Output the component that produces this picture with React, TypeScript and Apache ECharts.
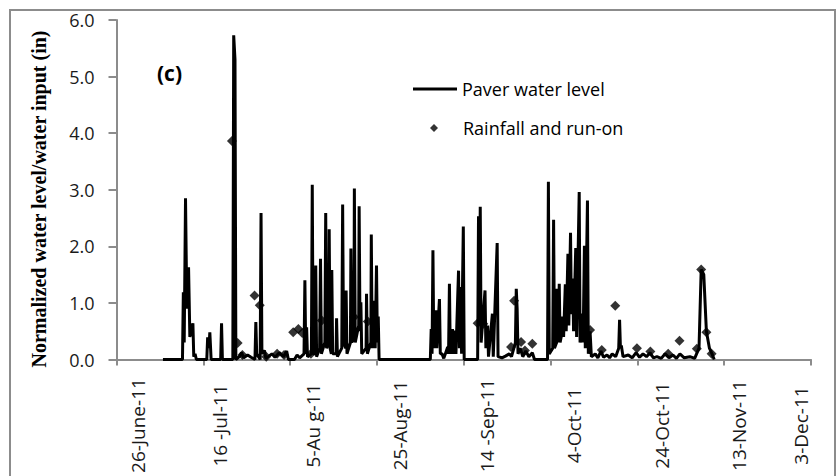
import React, { useEffect, useRef } from "react";
import * as echarts from "echarts";

// x values: days since 26-June-2011
const tickLabels = [
  "26-June-11",
  "16 -Jul-11",
  "5-Au g-11",
  "25-Aug-11",
  "14 -Sep-11",
  "4-Oct-11",
  "24-Oct-11",
  "13-Nov-11",
  "3-Dec-11",
];

const seriesNames = ["Paver water level", "Rainfall and run-on"];
const yTitle = "Normalized water level/water input (in)";
const panelLabel = "(c)";

const levelDay = [
  10.7, 15.2, 15.4, 15.6, 15.9, 16.2, 16.6, 16.9, 17.6, 17.8, 18.1, 18.4, 20.8, 21.0, 21.3, 21.5, 21.8, 24.0, 24.2, 24.4,
  26.8, 27.0, 27.3, 27.5, 28.3, 28.8, 29.3, 30.2, 31.0, 31.9, 32.1, 32.3, 33.1, 33.3, 33.5, 34.1, 34.4, 35.8, 36.5, 37.5,
  38.5, 39.2, 39.6, 41.0, 41.6, 42.2, 43.2, 43.4, 43.6, 43.8, 44.0, 44.9, 45.1, 45.3, 45.8, 45.9, 46.1, 46.8, 47.0, 47.2,
  48.0, 48.2, 48.4, 48.9, 49.0, 49.2, 49.5, 49.6, 49.8, 50.6, 50.7, 50.9, 51.9, 52.1, 52.3, 52.8, 52.9, 53.1, 53.9, 54.0,
  54.2, 54.7, 54.8, 55.0, 55.8, 55.9, 56.1, 56.3, 56.5, 57.5, 57.6, 57.8, 58.6, 58.7, 58.9, 59.4, 59.6, 59.9, 60.1, 60.3,
  60.5, 72.3, 72.5, 72.7, 72.9, 73.1, 73.6, 73.8, 74.4, 74.6, 75.0, 75.4, 76.3, 76.5, 76.7, 76.9, 77.4, 77.6, 78.0, 78.2,
  78.8, 79.0, 79.3, 79.5, 79.9, 80.1, 83.2, 83.4, 83.6, 83.8, 84.0, 84.9, 85.1, 85.5, 85.7, 86.6, 86.8, 87.7, 87.9, 88.8,
  89.6, 90.5, 91.0, 91.9, 92.1, 92.3, 92.5, 93.0, 93.6, 94.3, 95.0, 95.8, 96.3, 99.3, 99.5, 99.7, 100.5, 100.7, 100.9, 101.4,
  101.5, 101.8, 102.0, 102.2, 102.7, 102.8, 103.0, 103.4, 103.6, 104.0, 104.2, 104.6, 104.8, 105.1, 105.3, 105.8, 106.0, 106.6, 106.8, 107.3,
  107.5, 107.8, 108.0, 108.5, 108.7, 109.1, 109.4, 110.3, 110.9, 111.6, 112.2, 113.0, 113.6, 114.2, 115.0, 115.7, 115.9, 116.1, 116.3, 116.7,
  117.9, 118.8, 119.7, 120.5, 121.3, 122.1, 122.9, 123.7, 124.5, 125.5, 126.4, 127.3, 128.2, 129.0, 129.8, 130.8, 132.1, 133.2, 134.2, 134.7,
  135.0, 135.3, 135.9, 136.6, 137.2, 137.7,
];

const levelValue = [
  0, 0, 1.19, 0.3, 2.85, 0.9, 1.63, 0.4, 0.64, 0.05, 0.1, 0, 0, 0.39, 0.2, 0.48, 0, 0, 0.64, 0,
  0, 5.73, 5.3, 0, 0.05, 0.12, 0.03, 0.08, 0.04, 0, 0.66, 0.1, 0, 2.59, 0.1, 0.16, 0.02, 0.1, 0.04, 0.12,
  0.05, 0.15, 0, 0, 0.08, 0.03, 0.1, 1.4, 0.1, 0.57, 0.05, 0.1, 3.09, 0.1, 0.1, 1.66, 0.05, 0.2, 1.78, 0.1,
  0.3, 2.59, 0.2, 0.3, 2.3, 0.2, 0.1, 1.58, 0.1, 0.1, 0.73, 0.05, 0.2, 2.74, 0.3, 0.2, 1.22, 0.1, 0.3, 1.96,
  0.3, 0.4, 3.02, 0.3, 0.6, 2.71, 0.5, 1.01, 0.1, 0.2, 1.16, 0.1, 0.3, 2.21, 0.2, 1.04, 0.2, 1.66, 0.3, 0.76,
  0, 0, 0.54, 0.1, 1.93, 0.2, 0.87, 0.2, 1.07, 0.1, 0.1, 0.02, 0.22, 0.1, 1.34, 0.1, 0.54, 0.1, 0.51, 0.1,
  1.57, 0.2, 1.28, 0.1, 2.35, 0, 0, 2.53, 0.6, 2.7, 0.3, 1.22, 0.2, 0.6, 0.05, 0.81, 0.05, 2.06, 0.05, 0.03,
  0.06, 0.1, 0.05, 0.3, 1.25, 0.9, 0.1, 0.2, 0.05, 0.15, 0.05, 0.12, 0, 0, 3.14, 0.1, 0.2, 2.47, 0.2, 0.3,
  1.25, 0.3, 1.34, 0.3, 0.5, 0.76, 0.4, 1.33, 0.5, 1.87, 0.6, 2.24, 0.8, 1.43, 0.5, 1.97, 0.4, 2.96, 0.3, 0.81,
  0.3, 2.01, 0.2, 2.81, 0.1, 0.5, 0.05, 0.1, 0.03, 0.15, 0.04, 0.08, 0.03, 0.1, 0.05, 0.2, 0.7, 0.2, 0.25, 0.05,
  0.08, 0.03, 0.12, 0.04, 0.1, 0.05, 0.12, 0.03, 0.05, 0.02, 0.1, 0.03, 0.08, 0.02, 0.1, 0.03, 0.05, 0.02, 0.2, 1.59,
  1.55, 1.5, 0.5, 0.2, 0.1, 0,
];

const rainDay = [
  26.6, 27.9, 29.0, 31.8, 33.0, 34.5, 37.0, 38.6, 40.7, 41.9, 42.8, 44.8, 47.3, 54.7, 57.9, 83.2, 84.5, 90.9, 91.6, 93.2,
  94.1, 95.8, 109.1, 111.8, 114.9, 119.9, 123.0, 127.1, 129.7, 133.7, 134.7, 135.9, 137.1,
];
const rainValue = [
  3.86, 0.29, 0.08, 1.13, 0.96, 0.05, 0.1, 0.08, 0.48, 0.54, 0.47, 0.1, 0.69, 0.75, 0.67, 0.64, 0.63, 0.22, 1.04, 0.31,
  0.16, 0.28, 0.52, 0.17, 0.95, 0.2, 0.14, 0.1, 0.33, 0.19, 1.59, 0.48, 0.1,
];

const AXIS_GRAY = "#8c8c8c";
const FONT = "'Open Sans', 'Noto Sans', sans-serif";
// horizontal shift (px) of each rotated tick label relative to its tick, as in the reference
const labelShift = [21, 17, 23, 23, 23, 23, 25, 15, -10];

export default function App() {
  const ref = useRef<HTMLDivElement>(null);
  useEffect(() => {
    if (!ref.current) return;
    const chart = echarts.init(ref.current, undefined, { renderer: "svg" });
    const levelData = levelDay.map((d, i) => [d, levelValue[i]]);
    const rainData = rainDay.map((d, i) => [d, rainValue[i]]);
    const rich: Record<string, any> = {
      t: { fontFamily: FONT, fontSize: 19, color: "#1a1a1a", lineHeight: 22 },
    };
    labelShift.forEach((s, i) => {
      rich["s" + i] = { fontSize: 1, lineHeight: Math.max(1, Math.abs(s) * 2) };
    });
    chart.setOption({
      animation: false,
      backgroundColor: "#ffffff",
      grid: { left: 116.5, right: 26, top: 20, bottom: 116.5, outerBoundsMode: "none" },
      legend: [
        {
          data: [{ name: seriesNames[0], icon: "rect" }],
          left: 408,
          top: 75,
          itemWidth: 44,
          itemHeight: 3,
          selectedMode: false,
          textStyle: { fontFamily: FONT, fontSize: 18, color: "#000" },
        },
        {
          data: [{ name: seriesNames[1], icon: "diamond" }],
          left: 425,
          top: 114,
          itemWidth: 8,
          itemHeight: 8,
          selectedMode: false,
          textStyle: { fontFamily: FONT, fontSize: 18, color: "#000", padding: [0, 0, 0, 20] },
        },
      ],
      xAxis: {
        type: "value",
        min: 0,
        max: 160,
        interval: 20,
        splitLine: { show: false },
        axisLine: { show: true, lineStyle: { color: AXIS_GRAY, width: 2 } },
        axisTick: { show: true, length: 6, lineStyle: { color: AXIS_GRAY, width: 2 } },
        axisLabel: {
          rotate: 90,
          fontFamily: FONT,
          fontSize: 19,
          color: "#1a1a1a",
          align: "center",
          verticalAlign: "middle",
          margin: 66,
          rich,
          formatter: (v: number) => {
            const i = Math.round(v / 20);
            const label = tickLabels[i] ?? "";
            const s = labelShift[i] ?? 0;
            return s >= 0 ? `{s${i}| }\n{t|${label}}` : `{t|${label}}\n{s${i}| }`;
          },
        },
      },
      yAxis: {
        type: "value",
        min: 0,
        max: 6,
        interval: 1,
        splitLine: { show: false },
        axisLine: { show: true, lineStyle: { color: AXIS_GRAY, width: 2 } },
        axisTick: { show: true, length: 8, lineStyle: { color: AXIS_GRAY, width: 2 } },
        axisLabel: {
          fontFamily: FONT,
          fontSize: 18,
          color: "#1a1a1a",
          margin: 22,
          formatter: (v: number) => v.toFixed(1),
        },
      },
      graphic: [
        {
          type: "rect",
          silent: true,
          shape: { x: 10, y: 10, width: 825, height: 480 },
          style: { fill: "none", stroke: AXIS_GRAY, lineWidth: 2 },
        },
        {
          type: "text",
          left: 157,
          top: 62,
          style: { text: panelLabel, font: `bold 21px ${FONT}`, fill: "#000" },
        },
        {
          type: "text",
          x: 39,
          y: 199,
          rotation: Math.PI / 2,
          style: {
            text: yTitle,
            font: "bold 20px 'Liberation Serif', 'Times New Roman', serif",
            fill: "#000",
            align: "center",
            verticalAlign: "middle",
          },
        },
      ],
      series: [
        {
          name: seriesNames[0],
          type: "line",
          data: levelData,
          symbol: "none",
          showSymbol: false,
          lineStyle: { color: "#000", width: 3 },
          itemStyle: { color: "#000" },
          z: 2,
        },
        {
          name: seriesNames[1],
          type: "scatter",
          data: rainData,
          symbol: "diamond",
          symbolSize: 10,
          itemStyle: { color: "#000" },
          z: 3,
        },
      ],
    });
    return () => chart.dispose();
  }, []);
  return (
    <div
      ref={ref}
      style={{ position: "fixed", left: 0, top: 0, width: 837, height: 476, background: "#fff" }}
    />
  );
}
